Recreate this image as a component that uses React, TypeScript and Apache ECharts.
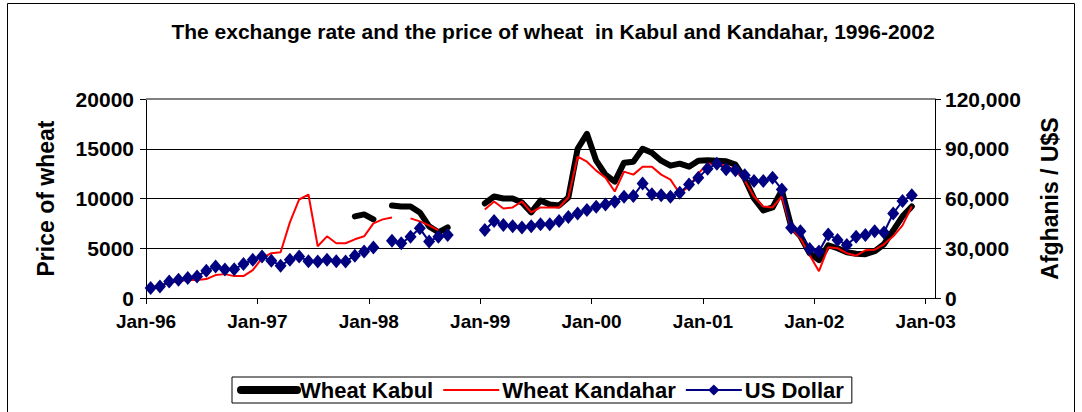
import React, { useEffect, useRef } from "react";
import * as echarts from "echarts";

// Monthly observations, Jan-96 (index 0) .. Dec-02 (index 83); null = no data
const wheatKabul: (number | null)[] = [
  // 1996
  null, null, null, null, null, null, null, null, null, null, null, null,
  // 1997
  null, null, null, null, null, null, null, null, null, null, 8200, 8400,
  // 1998
  7900, null, 9300, 9200, 9200, 8600, 7200, 6600, 7100, null, null, null,
  // 1999
  9500, 10200, 10000, 10000, 9600, 8600, 9800, 9400, 9300, 10100, 15000, 16500,
  // 2000
  13800, 12400, 11700, 13600, 13700, 15000, 14600, 13800, 13300, 13500, 13200, 13800,
  // 2001
  13850, 13800, 13750, 13400, 12000, 10000, 8800, 9100, 10800, 7200, 6200, 4500,
  // 2002
  3800, 5300, 5000, 4600, 4450, 4400, 4700, 5400, 6800, 8200, 9200, null,
];

const wheatKandahar: (number | null)[] = [
  // 1996
  1100, 1200, 1500, 1700, 1800, 1800, 1900, 2300, 2400, 2200, 2200, 2800,
  // 1997
  4000, 4500, 4600, 7600, 9900, 10400, 5200, 6200, 5500, 5500, 5900, 6200,
  // 1998
  7500, 7900, 8100, null, 8000, 7700, 7300, 6800, null, null, null, null,
  // 1999
  8900, 9700, 9000, 9100, 9700, 8600, 9100, 9100, 9100, 10100, 14200, 13700,
  // 2000
  12800, 12100, 10700, 12700, 12400, 13200, 13200, 12400, 11900, 10500, 11200, 12500,
  // 2001
  13500, 13500, 13300, 12800, 11800, 10200, 9200, 9100, 10200, 7000, 6000, 4300,
  // 2002
  2700, 5100, 5000, 4500, 4250, 4800, 4850, 5400, 6200, 7300, 9200, null,
];

const usDollar: (number | null)[] = [
  // 1996
  6000, 7000, 10000, 11000, 12000, 13000, 16500, 19000, 17200, 17400, 20500, 23000,
  // 1997
  25000, 22500, 19500, 23000, 25000, 22200, 22000, 23000, 22200, 22000, 25500, 28000,
  // 1998
  30500, null, 34500, 33000, 37000, 42000, 34000, 37000, 38000, null, null, null,
  // 1999
  41000, 46400, 44000, 43300, 42500, 43300, 44400, 44400, 46400, 48800, 51000, 53000,
  // 2000
  55000, 56400, 58000, 61000, 61500, 69000, 62500, 62000, 61000, 63500, 68500, 72500,
  // 2001
  78000, 81000, 77600, 77000, 74000, 70500, 70500, 72500, 65500, 42300, 40300, 29500,
  // 2002
  28000, 38300, 35000, 32000, 37000, 38000, 40300, 39500, 51000, 58500, 62000, null,
];

const xTickLabels = ["Jan-96", "Jan-97", "Jan-98", "Jan-99", "Jan-00", "Jan-01", "Jan-02", "Jan-03"];
const seriesNames = ["Wheat Kabul", "Wheat Kandahar", "US Dollar"];
const titleText = "The exchange rate and the price of wheat  in Kabul and Kandahar, 1996-2002";
const leftAxisName = "Price of wheat";
const rightAxisName = "Afghanis / U$S";

const FONT = "'Liberation Sans', Arial, sans-serif";

const toPoints = (arr: (number | null)[]) =>
  arr.map((v, i) => [i + 0.5, v === null ? "-" : v]);

export default function App() {
  const ref = useRef<HTMLDivElement>(null);

  useEffect(() => {
    if (!ref.current) return;
    const chart = echarts.init(ref.current, null, { renderer: "svg" });
    const tickVals = xTickLabels.map((_, i) => i * 12);
    const base = { fontFamily: FONT, fontWeight: "bold" as const, color: "#000" };

    chart.setOption({
      animation: false,
      backgroundColor: "#fff",
      title: {
        text: titleText,
        left: 548,
        textAlign: "center",
        top: 16,
        textStyle: { ...base, fontSize: 21 },
      },
      graphic: [
        {
          type: "rect",
          shape: { x: 7.5, y: 3.5, width: 1067, height: 430 },
          style: { fill: "none", stroke: "#000", lineWidth: 1 },
          silent: true,
        },
        {
          type: "line",
          shape: { x1: 146, y1: 99, x2: 935, y2: 99 },
          style: { stroke: "#808080", lineWidth: 2 },
          z: 1,
          silent: true,
        },
      ],
      legend: {
        data: [
          { name: seriesNames[0], lineStyle: { width: 8, cap: "round" }, itemStyle: { opacity: 0 } },
          { name: seriesNames[1], lineStyle: { width: 2 }, itemStyle: { opacity: 0 } },
          { name: seriesNames[2], lineStyle: { width: 2 } },
        ],
        left: 232,
        top: 377,
        itemWidth: 56,
        itemHeight: 14,
        itemGap: 9,
        padding: [2, 8, 2, 5],
        borderColor: "#000",
        borderWidth: 1,
        textStyle: { ...base, fontSize: 22, padding: [0, 0, 0, -2] },
      },
      grid: { left: 146, right: 147, top: 99, bottom: 114 },
      xAxis: {
        type: "value",
        min: 0,
        max: 85,
        axisLine: { show: true, lineStyle: { color: "#000", width: 1 } },
        axisTick: { show: true, length: 6, customValues: tickVals, lineStyle: { color: "#000" } },
        axisLabel: {
          ...base,
          fontSize: 19,
          customValues: tickVals,
          margin: 14,
          formatter: (v: number) => xTickLabels[Math.round(v / 12)] ?? "",
        },
        splitLine: { show: false },
      },
      yAxis: [
        {
          type: "value",
          min: 0,
          max: 20000,
          interval: 5000,
          position: "left",
          name: leftAxisName,
          nameLocation: "middle",
          nameRotate: 90,
          nameGap: 89,
          nameTextStyle: { ...base, fontSize: 23 },
          axisLine: { show: true, lineStyle: { color: "#000", width: 1 } },
          axisTick: { show: true, length: 6, inside: false, lineStyle: { color: "#000" } },
          axisLabel: { ...base, fontSize: 21, margin: 12, formatter: (v: number) => String(v) },
          splitLine: { show: true, lineStyle: { color: "#000", width: 1 } },
        },
        {
          type: "value",
          min: 0,
          max: 120000,
          interval: 30000,
          position: "right",
          name: rightAxisName,
          nameLocation: "middle",
          nameRotate: 90,
          nameGap: 103,
          nameTextStyle: { ...base, fontSize: 23 },
          axisLine: { show: true, lineStyle: { color: "#000", width: 1 } },
          axisTick: { show: true, length: 6, inside: false, lineStyle: { color: "#000" } },
          axisLabel: {
            ...base,
            fontSize: 21,
            margin: 10,
            formatter: (v: number) => v.toLocaleString("en-US"),
          },
          splitLine: { show: false },
        },
      ],
      series: [
        {
          name: seriesNames[0],
          type: "line",
          yAxisIndex: 0,
          data: toPoints(wheatKabul),
          showSymbol: false,
          symbol: "none",
          connectNulls: false,
          lineStyle: { color: "#000", width: 6, cap: "round", join: "round" },
          itemStyle: { color: "#000" },
          z: 2,
        },
        {
          name: seriesNames[1],
          type: "line",
          yAxisIndex: 0,
          data: toPoints(wheatKandahar),
          showSymbol: false,
          symbol: "none",
          connectNulls: false,
          lineStyle: { color: "#ff0000", width: 2 },
          itemStyle: { color: "#ff0000" },
          z: 3,
        },
        {
          name: seriesNames[2],
          type: "line",
          yAxisIndex: 1,
          data: toPoints(usDollar),
          symbol: "diamond",
          symbolSize: [12, 14],
          showSymbol: true,
          connectNulls: false,
          lineStyle: { color: "#000080", width: 2 },
          itemStyle: { color: "#000080" },
          z: 4,
        },
      ],
    });

    return () => chart.dispose();
  }, []);

  return (
    <div
      ref={ref}
      style={{ position: "fixed", left: 0, top: 0, width: 1082, height: 412 }}
    />
  );
}
